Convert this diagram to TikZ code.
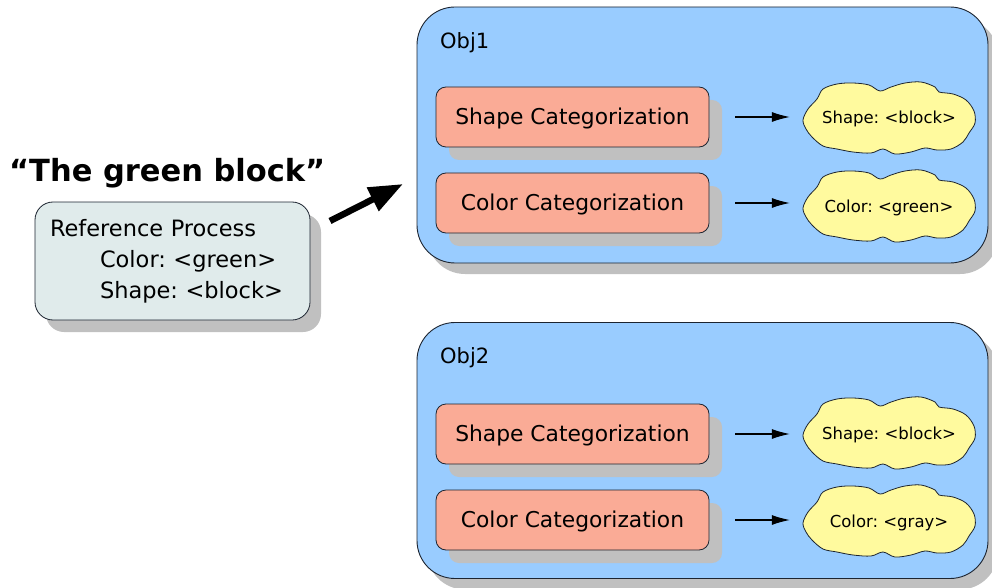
\documentclass[tikz,border=0pt]{standalone}
\usepackage{fontspec}
\setmainfont{DejaVu Sans}
\frenchspacing
\usetikzlibrary{shadows,arrows.meta}

\definecolor{objblue}{HTML}{99CCFF}
\definecolor{catsalmon}{HTML}{FAAB96}
\definecolor{cloudyellow}{HTML}{FFFA9E}
\definecolor{refgray}{HTML}{E0EBEB}
\definecolor{shadowgray}{HTML}{C0C0C0}
\definecolor{edgedark}{HTML}{1C2430}

\tikzset{
  objbox/.style={draw=edgedark, line width=0.9pt, fill=objblue, rounded corners=38pt,
    minimum width=571pt, minimum height=256pt, inner sep=0pt,
    general shadow={shadow xshift=10pt, shadow yshift=-11pt, fill=shadowgray}},
  catbox/.style={draw=edgedark, line width=0.8pt, fill=catsalmon, rounded corners=10pt,
    minimum width=273pt, minimum height=60pt, inner sep=0pt,
    text height=15.7pt, text depth=0pt,
    font=\fontsize{21.8}{24}\selectfont,
    general shadow={shadow xshift=13pt, shadow yshift=-13pt, fill=shadowgray}},
  refbox/.style={draw=edgedark, line width=0.8pt, fill=refgray, rounded corners=18pt,
    minimum width=275pt, minimum height=118pt, text width=245pt, align=left,
    inner sep=15pt, font=\fontsize{22.5}{31}\selectfont,
    general shadow={shadow xshift=11pt, shadow yshift=-12pt, fill=shadowgray}},
  cloudline/.style={draw=edgedark, line width=0.8pt, fill=cloudyellow},
  cloudtext/.style={minimum width=172pt, minimum height=70pt, inner sep=0pt,
    text height=12pt, text depth=0pt, font=\fontsize{16.5}{19}\selectfont},
  objlabel/.style={anchor=west, inner sep=0pt, font=\fontsize{21}{24}\selectfont},
  feed/.style={line width=1.1pt, -{Latex[length=18pt,width=10pt]}},
  bigarrow/.style={line width=6.5pt, -{Triangle[length=34pt,width=25pt]}}
}

% a bumpy thought-cloud outline round (#1,#2), then its text node #3
\newcommand{\valuecloud}[4]{%
  \draw[cloudline, shift={(#1,#2)}] plot[smooth cycle, tension=0.55] coordinates {
    (-86,2) (-81,-9) (-72,-19) (-66,-29) (-52,-34) (-36,-35) (-20,-33) (-9,-27)
    (2,-31) (16,-35) (32,-36) (46,-31) (50,-26) (64,-24) (77,-18) (85,-7)
    (86,5) (80,15) (74,24) (62,31) (48,32) (36,30) (22,34) (6,36) (-6,31)
    (-18,35) (-36,34) (-52,31) (-66,28) (-77,19) (-83,11)};
  \node[cloudtext] (#3) at (#1,#2) {#4};%
}

\begin{document}
\begin{tikzpicture}[x=1pt,y=-1pt]
\useasboundingbox (0,0) rectangle (992,588);

% title
\node[anchor=west, inner sep=0pt, text height=22pt, text depth=0pt,
  font=\fontsize{30.5}{34}\selectfont\bfseries] (title) at (9,171) {“The green block”};

% reference process
\node[refbox] (ref) at (172.5,261) {Reference Process\\\hspace*{50pt}Color: <green>\\\hspace*{50pt}Shape: <block>};

% object frames
\node[objbox] (obj1) at (702.5,135) {};
\node[objbox] (obj2) at (702.5,450.5) {};
\node[objlabel] (o1) at (440,43) {Obj1};
\node[objlabel] (o2) at (440,358) {Obj2};

% categorization processes
\node[catbox] (s1) at (572.5,117) {Shape Categorization};
\node[catbox] (c1) at (572.5,203) {Color Categorization};
\node[catbox] (s2) at (572.5,434) {Shape Categorization};
\node[catbox] (c2) at (572.5,520) {Color Categorization};

% category values
\valuecloud{889}{118}{vs1}{Shape: <block>}
\valuecloud{889}{206}{vc1}{Color: <green>}
\valuecloud{889}{433}{vs2}{Shape: <block>}
\valuecloud{889}{521}{vc2}{Color: <gray>}

\draw[feed] ([xshift=26pt]s1.east) -- ([xshift=-13pt]s1.east -| vs1.west);
\draw[feed] ([xshift=26pt]c1.east) -- ([xshift=-13pt]c1.east -| vc1.west);
\draw[feed] ([xshift=26pt]s2.east) -- ([xshift=-13pt]s2.east -| vs2.west);
\draw[feed] ([xshift=26pt]c2.east) -- ([xshift=-13pt]c2.east -| vc2.west);

% reference process passes to the objects
\coordinate (from) at (330,221);
\coordinate (to) at (403,184);
\draw[bigarrow] (from) -- (to);
\end{tikzpicture}
\end{document}
